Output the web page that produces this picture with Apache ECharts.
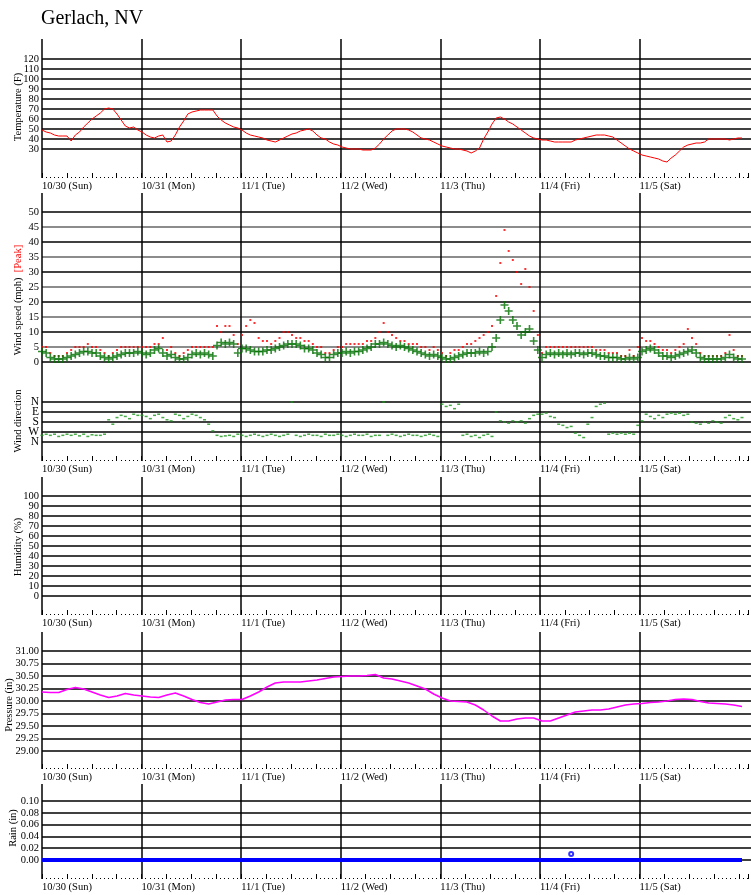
<!DOCTYPE html>
<html><head><meta charset="utf-8">
<script src="https://cdn.jsdelivr.net/npm/echarts@6/dist/echarts.min.js"></script>
<style>html,body{margin:0;padding:0;background:#fff}#c{width:751px;height:895px}</style>
</head><body><div id="c"></div>
<script>
const title = 'Gerlach, NV';
const dayLabels = ['10/30 (Sun)','10/31 (Mon)','11/1 (Tue)','11/2 (Wed)','11/3 (Thu)','11/4 (Fri)','11/5 (Sat)'];
const dirLabels = ['N','E','S','W','N'];

// hourly values starting 10/30 00:00
const temperature = [
49,47,46,44,43,43,43,38,44,47,52,56,60,63,66,70,71,70,65,59,53,51,52,49,
47,44,42,41,43,44,37,38,44,52,58,65,67,68,69,69,69,69,63,59,56,54,52,51,
49,46,44,43,42,41,39,38,37,39,41,43,45,46,48,49,50,48,44,41,40,37,35,34,
32,31,30,30,30,29,29,29,31,35,40,44,48,50,50,50,49,47,44,41,40,39,37,35,
33,32,31,30,30,29,28,26,28,31,40,47,55,61,62,60,57,55,52,49,46,43,41,40,
39,39,38,37,37,37,37,37,39,40,41,42,43,44,44,44,43,42,39,36,33,30,28,26,
24,23,22,21,20,18,17,21,24,28,32,34,35,36,36,37,40,40,40,40,40,39,40,41,41];

const windAvg = [
3.5,3,1.5,1,1,1,1.5,2,2.5,3,3.5,3.5,3,3,2,1.5,1,1.5,2,2.5,3,3,3,3.5,
3,2.5,3,4,4.5,3,2,2.5,1.5,1,1,1.5,2.5,3,2.5,3,2.5,2,5.5,6.5,6,6.5,6,3,
4.5,4.5,4,3.5,3.5,3.5,4,4,4.5,5,5.5,6,6,6,5.5,4.5,4.5,4,3,2.5,1.5,1.5,2.5,3,
3,3.5,3,3.5,3.5,4,4.5,5,6,6,6.5,6,5.5,5,5.5,5,4.5,4,3.5,3,2.5,2,2.5,2,
1.5,1,1,1.5,2,2.5,3,3,3,3.5,3,3.5,5,8,14,19,17,14,12,9,10,11,7,4,
1.5,2.5,3,2.5,3,2.5,3,2.5,3,3,2.5,3,3,2.5,2,2,1.5,1.5,1.5,1,1,1.5,1,1.5,
3.5,4,4.5,4,3,2,2,1.5,2,2.5,3,3.5,4,3,1.5,1,1,1,1,1,1.5,2.5,1.5,1,1];

const windPeak = [
5,5,3,2,2,2,3,4,5,5,5,6,5,5,4,3,2,3,4,5,5,5,5,5,
5,5,5,6,6,8,4,5,3,2,3,4,5,5,5,5,5,5,12,10,12,12,9,6,
9,12,14,13,8,7,7,6,7,8,10,10,9,8,8,7,7,6,5,5,3,3,4,5,
5,6,6,6,6,6,7,7,8,10,13,10,9,8,7,7,6,6,6,5,5,4,5,4,
3,2,3,4,4,5,6,6,7,8,9,10,12,22,33,44,37,34,30,26,31,25,17,9,
3,5,5,5,5,5,5,5,5,5,5,5,5,4,4,4,3,3,3,2,2,4,2,5,
8,7,7,6,5,4,4,3,4,5,6,11,8,6,3,2,2,2,2,2,3,9,4,2,2];

const windDir = [
300,290,300,290,310,300,290,300,290,305,290,310,295,300,300,290,160,200,140,120,130,150,110,120,
120,130,150,120,110,140,160,170,110,120,150,130,110,120,140,160,200,260,300,310,305,300,310,290,
300,310,300,290,300,310,300,290,300,310,300,290,0,300,310,300,290,300,300,310,290,300,300,290,
300,310,300,290,300,300,290,310,300,300,0,300,290,300,310,300,290,300,300,310,300,290,300,310,
20,40,30,60,20,300,290,310,300,320,300,290,310,90,170,180,190,170,180,170,190,150,120,110,
110,100,130,140,200,210,230,220,280,300,320,200,140,40,20,10,290,280,290,280,290,280,290,210,
170,110,130,150,120,140,110,100,110,100,120,110,180,190,200,180,190,170,180,190,140,120,150,160,140];

// every 2 hours
const pressure = [
30.18,30.17,30.17,30.23,30.27,30.24,30.18,30.12,30.07,30.10,30.15,30.12,
30.10,30.08,30.07,30.12,30.16,30.10,30.03,29.97,29.94,29.98,30.02,30.03,
30.03,30.10,30.18,30.28,30.36,30.38,30.38,30.38,30.40,30.42,30.45,30.48,
30.49,30.50,30.50,30.51,30.53,30.46,30.44,30.40,30.36,30.30,30.24,30.14,
30.06,30.00,29.99,29.98,29.92,29.82,29.70,29.60,29.60,29.64,29.66,29.66,
29.60,29.60,29.66,29.72,29.78,29.80,29.82,29.82,29.84,29.88,29.92,29.94,
29.95,29.97,29.98,30.00,30.03,30.04,30.03,29.99,29.96,29.95,29.94,29.92,29.89];

// every 6 hours
const rain = [0,0,0,0,0,0,0,0,0,0,0,0,0,0,0,0,0,0,0,0,0,0,0,0,0,0,0,0,0];
const rainMarkHour = [127];
const rainMarkValue = [0.01];

const XMAX = 170.16;
const FONT = 'Liberation Serif';
const grids = [], xAxes = [], yAxes = [], series = [];
const dayLineColors = ['#000','#000','#000','#000','#000','#000','#000','rgba(0,0,0,0)'];
const CLEAR = 'rgba(0,0,0,0)';

function addBase(top, height) {
  const g = grids.length;
  grids.push({left: 42, right: 0, top: top, height: height});
  xAxes.push({gridIndex: g, type: 'value', min: 0, max: XMAX, interval: 24, position: 'bottom',
    axisLine: {show: false}, axisTick: {show: false},
    axisLabel: {show: true, align: 'left', margin: 3, fontFamily: FONT, fontSize: 10.5, color: '#000',
      formatter: function (v) { const d = Math.round(v / 24); return (Math.abs(v - d * 24) < 1e-6 && d < dayLabels.length) ? dayLabels[d] : ''; }},
    splitLine: {show: true, showMaxLine: false, lineStyle: {color: dayLineColors, width: 1.5}}});
  xAxes.push({gridIndex: g, type: 'value', min: 0, max: XMAX, interval: 6, position: 'bottom',
    axisLine: {show: false}, axisLabel: {show: false}, splitLine: {show: false},
    axisTick: {show: true, inside: true, length: 5, lineStyle: {color: '#000', width: 1}},
    minorTick: {show: true, splitNumber: 6, length: 1, lineStyle: {color: '#000', width: 1}}});
  yAxes.push({gridIndex: g, type: 'value', min: 0, max: 1, show: false});
}
// cfg.lo/cfg.hi = visible range; if cfg.pad, axis is extended by one interval on each side (hidden)
function addOverlay(top, height, cfg) {
  const g = grids.length;
  const i = cfg.interval;
  let min = cfg.lo, max = cfg.hi, gTop = top, gH = height, colors = cfg.colors || ['#000'];
  const nTicks = Math.round((cfg.hi - cfg.lo) / i) + 1;
  if (cfg.pad) {
    const ppv = height / (cfg.hi - cfg.lo);
    min = cfg.lo - i; max = cfg.hi + i;
    gTop = top - i * ppv; gH = height + 2 * i * ppv;
    colors = [CLEAR];
    for (let k = 0; k < nTicks; k++) colors.push('#000');
    colors.push(CLEAR);
  }
  grids.push({left: 42, right: 0, top: gTop, height: gH});
  xAxes.push({gridIndex: g, type: 'value', min: 0, max: XMAX, show: false});
  const fmt = cfg.formatter || (v => String(v));
  yAxes.push({gridIndex: g, type: 'value', min: min, max: max, interval: i, inverse: !!cfg.inverse,
    axisLine: {show: false}, axisTick: {show: false},
    axisLabel: {margin: 3, fontFamily: FONT, fontSize: cfg.fontSize || 10.5, color: '#000',
      formatter: v => (v < cfg.lo - 1e-9 || v > cfg.hi + 1e-9) ? '' : fmt(v)},
    splitLine: {show: true, lineStyle: {color: colors, width: 1.5}}});
  return {x: xAxes.length - 1, y: yAxes.length - 1};
}

addBase(39, 139);
const T = addOverlay(59, 90, {lo: 30, hi: 120, interval: 10, pad: true});
addBase(193, 268);
const S = addOverlay(212, 150, {lo: 0, hi: 50, interval: 5, colors: ['#000', '#666']});
const D = addOverlay(402, 40, {lo: 0, hi: 360, interval: 90, inverse: true, pad: true, fontSize: 11.5,
  formatter: v => dirLabels[Math.round(v / 90)]});
addBase(477, 138);
const H = addOverlay(496, 100, {lo: 0, hi: 100, interval: 10, pad: true});
addBase(632, 137);
const P = addOverlay(651, 100, {lo: 29, hi: 31, interval: 0.25, formatter: v => v.toFixed(2)});
addBase(784, 95);
const R = addOverlay(801, 59, {lo: 0, hi: 0.1, interval: 0.02, formatter: v => v.toFixed(2)});

series.push({type: 'line', xAxisIndex: T.x, yAxisIndex: T.y, data: temperature.map((v, i) => [i, v]),
  showSymbol: false, clip: false, lineStyle: {color: '#ff0000', width: 1}, animation: false});
series.push({type: 'scatter', xAxisIndex: S.x, yAxisIndex: S.y, data: windPeak.map((v, i) => [i, v]),
  symbol: 'rect', symbolSize: [2, 2], itemStyle: {color: '#ff0000'}, animation: false});
series.push({type: 'scatter', xAxisIndex: S.x, yAxisIndex: S.y, data: windAvg.map((v, i) => [i, v]),
  symbol: 'path://M4,0H6V4H10V6H6V10H4V6H0V4H4Z', symbolSize: 8, itemStyle: {color: '#007000'}, animation: false});
series.push({type: 'scatter', xAxisIndex: D.x, yAxisIndex: D.y, data: windDir.map((v, i) => [i, v]),
  symbol: 'rect', symbolSize: [3, 1.5], itemStyle: {color: '#1a961a'}, animation: false});
series.push({type: 'line', xAxisIndex: P.x, yAxisIndex: P.y, data: pressure.map((v, i) => [i * 2, v]),
  showSymbol: false, lineStyle: {color: '#ff00ff', width: 1.5}, animation: false});
series.push({type: 'line', xAxisIndex: R.x, yAxisIndex: R.y, data: rain.map((v, i) => [i * 6, v]),
  showSymbol: false, clip: false, lineStyle: {color: '#0000ff', width: 4}, animation: false});
series.push({type: 'scatter', xAxisIndex: R.x, yAxisIndex: R.y, data: rainMarkHour.map((h, i) => [h, rainMarkValue[i]]),
  symbol: 'emptyCircle', symbolSize: 4, itemStyle: {color: '#0000ff'}, animation: false});

function vtext(x, y, text) {
  return {type: 'text', x: x, y: y, rotation: Math.PI / 2,
    style: {text: text, align: 'center', verticalAlign: 'middle', fontFamily: FONT, fontSize: 10.5, fill: '#000'}};
}
const graphic = [
  {type: 'text', x: 41, y: 18.5, style: {text: title, align: 'left', verticalAlign: 'middle', fontFamily: FONT, fontSize: 20, fill: '#000'}},
  vtext(18, 107, 'Temperature (F)'),
  {type: 'text', x: 18, y: 300, rotation: Math.PI / 2,
    style: {text: '{a|Wind speed (mph)}  {b|[Peak]}', align: 'center', verticalAlign: 'middle', fontFamily: FONT, fontSize: 10.5, fill: '#000',
      rich: {a: {fontFamily: FONT, fontSize: 10.5, fill: '#000'}, b: {fontFamily: FONT, fontSize: 10.5, fill: '#ff0000'}}}},
  vtext(18, 421, 'Wind direction'),
  vtext(18, 547, 'Humidity (%)'),
  vtext(9, 705, 'Pressure (in)'),
  vtext(13, 828, 'Rain (in)')
];

const chart = echarts.init(document.getElementById('c'), null, {renderer: 'canvas'});
chart.setOption({animation: false, backgroundColor: '#fff', grid: grids, xAxis: xAxes, yAxis: yAxes, series: series, graphic: graphic});
</script></body></html>
